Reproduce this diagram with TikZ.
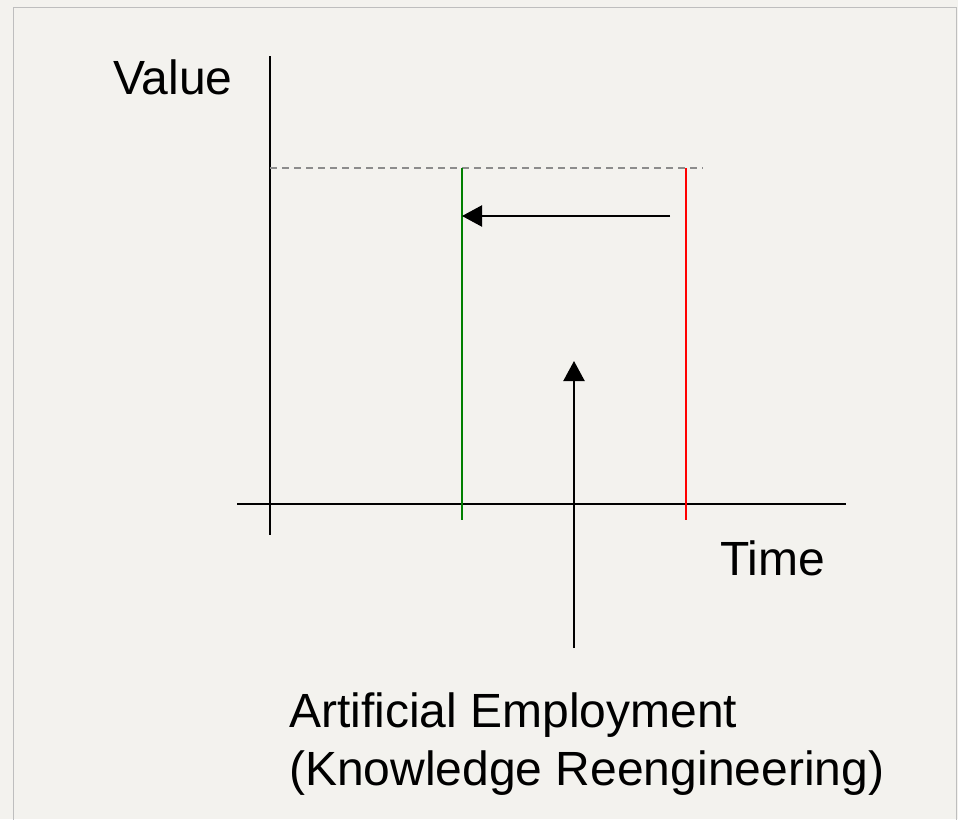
\documentclass[tikz,border=0pt]{standalone}
\usepackage{fontspec}
\setmainfont{Liberation Sans}
\usetikzlibrary{arrows.meta}
\definecolor{paper}{RGB}{243,242,238}
\definecolor{framegrey}{RGB}{190,190,190}
\definecolor{axisgreen}{RGB}{0,128,0}
\definecolor{axisred}{RGB}{255,0,0}
\tikzset{
	axis/.style={line width=2pt, color=black},
	level/.style={line width=1.8pt, color=#1},
	movearrow/.style={line width=2.2pt, -{Triangle[length=20pt,width=21pt]}},
	caption/.style={inner sep=0pt, anchor=base west, font=\fontsize{48}{58}\selectfont, align=left}
}

\begin{document}
\begin{tikzpicture}[x=1pt, y=-1pt]
			%%%%% START %%%%%
			
			\fill[paper] (0, 0) rectangle (958, 819);
			\useasboundingbox (0, 0) rectangle (958, 819);
			\draw[framegrey, line width=1.2pt] (13.5, 830) -- (13.5, 7.5) -- (956.5, 7.5) -- (956.5, 830);
			
			\coordinate (ytop) at (270, 56);
			\coordinate (ybot) at (270, 535);
			\coordinate (xleft) at (237, 504);
			\coordinate (xright) at (846, 504);
			
			\coordinate (dashend) at (703, 168);
			\coordinate (newtop) at (462, 168);
			\coordinate (newbot) at (462, 520);
			\coordinate (oldtop) at (686, 168);
			\coordinate (oldbot) at (686, 520);
			
			\coordinate (shiftfrom) at (670, 216);
			\coordinate (shiftto) at (462, 216);
			\coordinate (pushfrom) at (574, 648);
			\coordinate (pushto) at (574, 361);
			
			\draw[axis] (ytop) -- (ybot);
			\draw[axis] (xleft) -- (xright);
			\draw[line width=1.8pt, color=black!45, dash pattern=on 7pt off 5pt] (270, 168) -- (dashend);
			
			\draw[level=axisgreen] (newtop) -- (newbot);
			\draw[level=axisred] (oldtop) -- (oldbot);
			
			\draw[movearrow] (shiftfrom) -- (shiftto);
			\draw[movearrow] (pushfrom) -- (pushto);
			
			\node[caption] (value) at (113, 94) {Value};
			\node[caption] (time) at (720, 575) {Time};
			\node[caption] (employ) at (289, 785) {Artificial Employment\\(Knowledge Reengineering)};
			
			%%%%% END %%%%%
\end{tikzpicture}
\end{document}
